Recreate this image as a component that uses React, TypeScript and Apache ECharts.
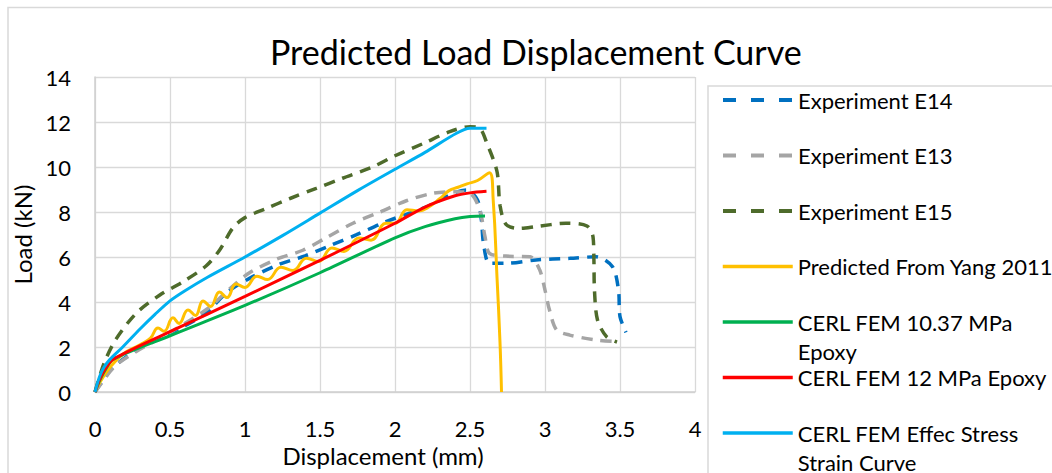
import React, { useEffect, useRef } from 'react';
import * as echarts from 'echarts';

type Pt = [number, number];

const e14: Pt[] = [
  [0, 0], [0.05, 0.5], [0.1, 0.95], [0.15, 1.27], [0.275, 1.85], [0.45, 2.45], [0.586, 2.9], [0.74, 3.5],
  [0.875, 4.4], [1.03, 5.05], [1.22, 5.65], [1.4, 6.05], [1.565, 6.5], [1.74, 6.98], [1.94, 7.57],
  [2.2, 8.2], [2.476, 8.98], [2.55, 8.53], [2.576, 7.64], [2.59, 6.61], [2.63, 5.72], [2.74, 5.72],
  [2.94, 5.87], [3.165, 5.94], [3.34, 6.01], [3.45, 5.57], [3.49, 4.53], [3.5, 3.35], [3.54, 2.65],
];

const e13: Pt[] = [
  [0, 0], [0.05, 0.45], [0.1, 0.9], [0.15, 1.25], [0.275, 1.8], [0.5, 2.65], [0.75, 3.7], [0.9, 4.6],
  [1.03, 5.3], [1.21, 5.9], [1.386, 6.3], [1.54, 6.85], [1.72, 7.5], [1.9, 8.0], [2.076, 8.5],
  [2.25, 8.83], [2.39, 8.9], [2.5, 8.83], [2.565, 8.09], [2.6, 6.9], [2.63, 6.16], [2.74, 6.04],
  [2.9, 6.01], [2.965, 5.42], [3.0, 4.53], [3.03, 3.64], [3.077, 2.76], [3.165, 2.53], [3.34, 2.31],
  [3.48, 2.24],
];

const e15: Pt[] = [
  [0, 0], [0.06, 1.27], [0.14, 2.35], [0.275, 3.5], [0.43, 4.3], [0.586, 4.9], [0.74, 5.6],
  [0.83, 6.3], [0.92, 7.3], [1.0, 7.75], [1.14, 8.15], [1.3, 8.6], [1.475, 9.05], [1.65, 9.5],
  [1.85, 10.0], [2.0, 10.5], [2.19, 11.05], [2.365, 11.57], [2.5, 11.79], [2.565, 11.72],
  [2.61, 11.1], [2.68, 9.8], [2.7, 8.3], [2.74, 7.45], [2.83, 7.27], [2.94, 7.35], [3.14, 7.5],
  [3.28, 7.38], [3.32, 6.9], [3.326, 5.9], [3.33, 4.5], [3.35, 3.2], [3.41, 2.46], [3.48, 2.22],
];

const yang: Pt[] = [
  [0, 0], [0.03, 0.4], [0.1, 1.1], [0.19, 1.7], [0.3, 2.1], [0.37, 2.4], [0.42, 2.85], [0.46, 2.7],
  [0.52, 3.3], [0.56, 3.05], [0.62, 3.65], [0.67, 3.4], [0.72, 4.05], [0.77, 3.8], [0.83, 4.45],
  [0.88, 4.2], [0.94, 4.8], [1.0, 4.65], [1.08, 5.15], [1.15, 5.0], [1.24, 5.55], [1.32, 5.4],
  [1.41, 5.95], [1.49, 5.8], [1.58, 6.4], [1.66, 6.25], [1.76, 6.85], [1.84, 6.75], [1.94, 7.5],
  [2.0, 7.5], [2.08, 8.1], [2.16, 8.05], [2.22, 8.2], [2.3, 8.6], [2.36, 8.95], [2.42, 9.1],
  [2.48, 9.25], [2.55, 9.4], [2.63, 9.75], [2.655, 8.5], [2.68, 5.1], [2.7, 2.2], [2.71, 0],
];

const fem1037: Pt[] = [
  [0, 0], [0.03, 0.5], [0.07, 1.0], [0.12, 1.45], [0.5, 2.5], [1.0, 3.85], [1.5, 5.3], [2.0, 6.85],
  [2.2, 7.35], [2.4, 7.7], [2.5, 7.8], [2.6, 7.82],
];

const fem12: Pt[] = [
  [0, 0], [0.03, 0.55], [0.07, 1.05], [0.12, 1.45], [0.5, 2.68], [1.0, 4.25], [1.5, 5.85], [2.0, 7.5],
  [2.2, 8.22], [2.4, 8.72], [2.5, 8.85], [2.61, 8.92],
];

const femEffec: Pt[] = [
  [0, 0], [0.03, 0.68], [0.06, 1.1], [0.1, 1.45], [0.185, 2.0], [0.3, 2.8], [0.4, 3.45], [0.5, 4.05],
  [0.6, 4.5], [0.75, 5.1], [1.0, 6.0], [1.25, 6.95], [1.5, 7.95], [1.75, 8.95], [2.0, 9.9],
  [2.2, 10.65], [2.41, 11.5], [2.5, 11.72], [2.61, 11.72],
];

const seriesNames = [
  'Experiment E14',
  'Experiment E13',
  'Experiment E15',
  'Predicted From Yang 2011',
  'CERL FEM 10.37 MPa Epoxy',
  'CERL FEM 12 MPa Epoxy',
  'CERL FEM Effec Stress Strain Curve',
];
const legendLabels = [
  'Experiment E14',
  'Experiment E13',
  'Experiment E15',
  'Predicted From Yang 2011',
  '\nCERL FEM 10.37 MPa\nEpoxy',
  'CERL FEM 12 MPa Epoxy',
  '\nCERL FEM Effec Stress\nStrain Curve',
];
const seriesData = [e14, e13, e15, yang, fem1037, fem12, femEffec];
const colors = ['#0070C0', '#A5A5A5', '#4E6B2B', '#FFC000', '#00B050', '#FF0000', '#00B0F0'];
const dashed = [true, true, true, false, false, false, false];

const FONT = 'Lato, "Open Sans", sans-serif';

export default function App() {
  const ref = useRef<HTMLDivElement>(null);
  useEffect(() => {
    const chart = echarts.init(ref.current!, null, { renderer: 'svg' });
    const legendCenters = [100, 155.5, 211, 266.5, 322, 377.5, 433];
    const legends = seriesNames.map((name, i) => {
      const nLines = legendLabels[i].split('\n').length;
      return {
        show: true,
        orient: 'vertical',
        left: 721,
        top: legendCenters[i] - (nLines * 29) / 2,
        padding: 0,
        itemWidth: 70,
        itemHeight: 14,
        selectedMode: false,
        data: [name],
        formatter: () => legendLabels[i],
        itemStyle: { opacity: 0 },
        lineStyle: dashed[i]
          ? { type: [13, 15], width: 4, color: colors[i], cap: 'butt' }
          : { type: 'solid', width: 3.5, color: colors[i] },
        textStyle: {
          fontFamily: FONT,
          fontSize: 22,
          lineHeight: 29,
          color: '#000',
        },
      };
    });

    const series = seriesNames.map((name, i) => ({
      name,
      type: 'line',
      data: seriesData[i],
      showSymbol: false,
      symbol: 'none',
      smooth: i === 3 ? 0.45 : 0.3,
      color: colors[i],
      lineStyle: dashed[i]
        ? { color: colors[i], width: 3.5, type: [11, 8], cap: 'butt' }
        : { color: colors[i], width: 3 },
      z: 2 + i,
    }));

    chart.setOption({
      animation: false,
      backgroundColor: '#fff',
      title: {
        text: 'Predicted Load Displacement Curve',
        left: 270,
        top: 34,
        padding: 0,
        textStyle: { fontFamily: FONT, fontSize: 34, fontWeight: 'normal', color: '#000' },
      },
      graphic: [
        {
          type: 'rect',
          silent: true,
          z: -10,
          shape: { x: 8, y: 7.5, width: 1200, height: 600 },
          style: { fill: 'none', stroke: '#d9d9d9', lineWidth: 1.5 },
        },
        {
          type: 'rect',
          silent: true,
          z: -10,
          shape: { x: 708, y: 86, width: 600, height: 600 },
          style: { fill: 'none', stroke: '#d9d9d9', lineWidth: 1.5 },
        },
      ],
      legend: legends,
      grid: { left: 95, right: 357, top: 77, bottom: 81, containLabel: false },
      xAxis: {
        type: 'value',
        min: 0,
        max: 4,
        interval: 0.5,
        name: 'Displacement (mm)',
        nameLocation: 'middle',
        nameGap: 50,
        nameTextStyle: { fontFamily: FONT, fontSize: 24, color: '#000', padding: [0, 24, 0, 0] },
        axisLine: { show: true, lineStyle: { color: '#cfcfcf', width: 1.5 } },
        axisTick: { show: false },
        axisLabel: { fontFamily: FONT, fontSize: 22, color: '#000', margin: 25 },
        splitLine: { show: true, lineStyle: { color: '#d9d9d9', width: 1.3 } },
      },
      yAxis: {
        type: 'value',
        min: 0,
        max: 14,
        interval: 2,
        name: 'Load (kN)',
        nameLocation: 'middle',
        nameGap: 46,
        nameTextStyle: { fontFamily: FONT, fontSize: 24, color: '#000' },
        axisLine: { show: true, lineStyle: { color: '#cfcfcf', width: 1.5 } },
        axisTick: { show: false },
        axisLabel: { fontFamily: FONT, fontSize: 22, color: '#000', margin: 24 },
        splitLine: { show: true, lineStyle: { color: '#d9d9d9', width: 1.3 } },
      },
      series,
    });
    return () => chart.dispose();
  }, []);
  return (
    <div
      ref={ref}
      style={{ position: 'fixed', left: 0, top: 0, width: 1052, height: 473, background: '#fff' }}
    />
  );
}
